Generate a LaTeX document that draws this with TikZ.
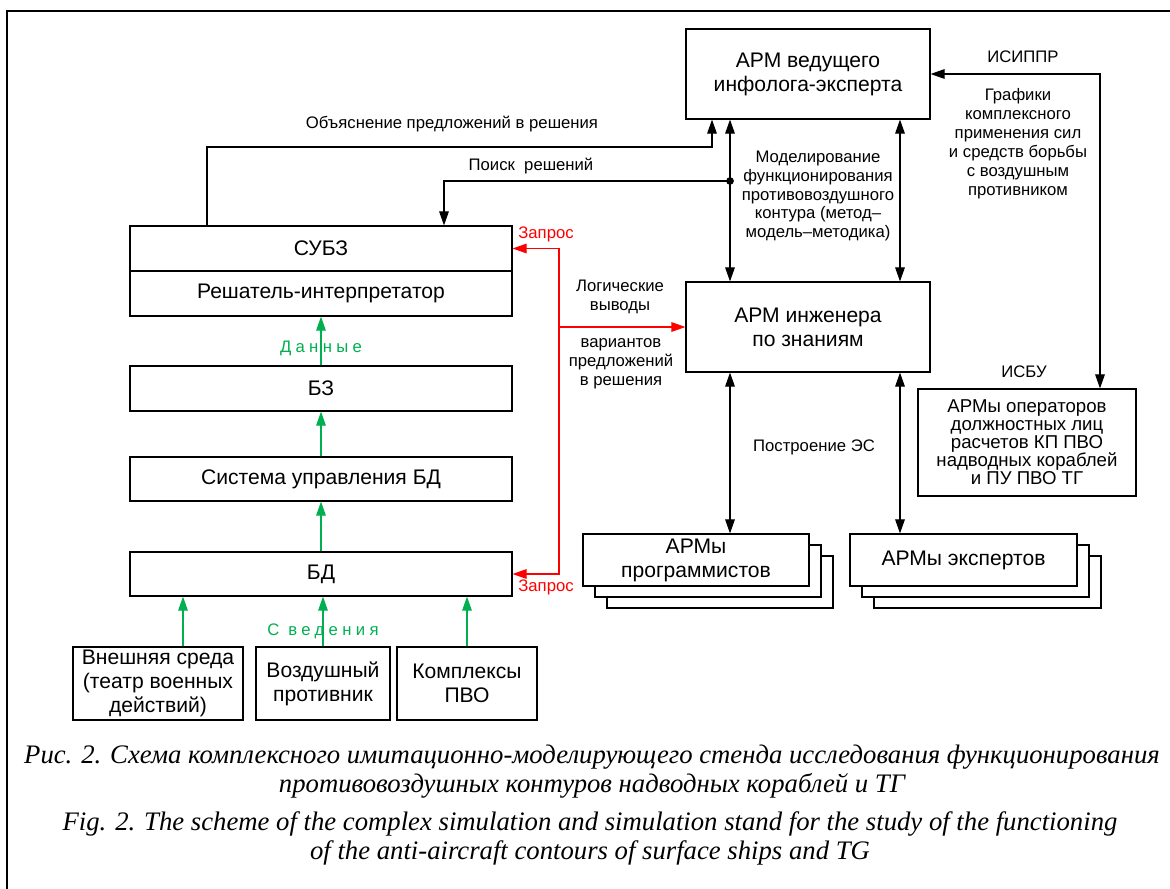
\documentclass[tikz,border=0pt]{standalone}
\usepackage{fontspec}
\setmainfont{Liberation Sans}
\newfontfamily\capfont{Liberation Serif}
\usetikzlibrary{arrows.meta,shadows}
\definecolor{zelen}{RGB}{0,176,80}
\tikzset{
  blk/.style={draw,line width=.7pt,inner sep=1pt,align=center,font=\fontsize{12}{13.7}\selectfont},
  lbl/.style={align=center,font=\fontsize{9.5}{10.8}\selectfont},
  arr/.style={line width=.6pt,-{Triangle[length=8pt,width=5.5pt]}},
  darr/.style={line width=.6pt,{Triangle[length=8pt,width=5.5pt]}-{Triangle[length=8pt,width=5.5pt]}},
  garr/.style={arr,zelen},
  rarr/.style={arr,red},
  stack/.style={fill=white,copy shadow={shadow xshift=.48cm,shadow yshift=-.44cm,draw=black,fill=white,line width=.7pt},
    copy shadow={shadow xshift=.24cm,shadow yshift=-.22cm,draw=black,fill=white,line width=.7pt}},
  razr/.style={font=\fontsize{9.5}{10.8}\selectfont\addfontfeature{LetterSpace=26}},
  capnode/.style={align=center,font=\capfont\itshape\fontsize{15.2}{16.5}\selectfont}
}
\begin{document}
\begin{tikzpicture}[x=.02cm,y=-.02cm]
\useasboundingbox (0,0) rectangle (1170,889);
\draw[line width=.6pt] (7,889) -- (7,11) -- (1170,11);

% left column
\node[blk,minimum width=7.64cm,minimum height=.9cm] (subz) at (321,248.5) {СУБЗ};
\node[blk,minimum width=7.64cm,minimum height=.9cm] (resh) at (321,293.5) {Решатель-интерпретатор};
\node[blk,minimum width=7.64cm,minimum height=.9cm] (bz) at (321,388.5) {БЗ};
\node[blk,minimum width=7.64cm,minimum height=.88cm] (sud) at (321,479) {Система управления БД};
\node[blk,minimum width=7.64cm,minimum height=.88cm] (bd) at (321,574) {БД};
\node[blk,minimum width=3.4cm,minimum height=1.46cm] (ext) at (158,683.5) {Внешняя среда\\(театр военных\\действий)};
\node[blk,minimum width=2.68cm,minimum height=1.46cm] (air) at (323,683.5) {Воздушный\\противник};
\node[blk,minimum width=2.8cm,minimum height=1.46cm] (pvo) at (467,683.5) {Комплексы\\ПВО};

% right part
\node[blk,minimum width=4.88cm,minimum height=1.8cm] (led) at (808,74) {АРМ ведущего\\инфолога-эксперта};
\node[blk,minimum width=4.88cm,minimum height=1.8cm] (eng) at (808,327) {АРМ инженера\\по знаниям};
\node[blk,stack,minimum width=4.52cm,minimum height=1.04cm] (prog) at (696,560) {АРМы\\программистов};
\node[blk,stack,minimum width=4.54cm,minimum height=1.04cm] (exp) at (963.5,560) {АРМы экспертов};
\node[blk,minimum width=4.36cm,minimum height=2.14cm,font=\fontsize{10.6}{10.2}\selectfont] (isbu) at (1027,442.5)
  {АРМы операторов\\должностных лиц\\расчетов КП ПВО\\надводных кораблей\\и ПУ ПВО ТГ};

\coordinate (xObj) at (207,147);
\coordinate (xObjR) at (712,147);
\coordinate (xPoisk) at (444,181);
\coordinate (tochka) at (730,181);
\coordinate (xR) at (900,0);
\coordinate (xIs) at (1100,0);
\coordinate (xRed) at (559,0);
\coordinate (xVn) at (183,0);

\draw[arr] (subz.north -| xObj) -- (xObj) -- (xObjR) -- (led.south -| xObjR);
\draw[arr] (tochka) -- (xPoisk) -- (subz.north -| xPoisk);
\fill (tochka) circle[radius=2.2pt];
\draw[darr] (led.south -| tochka) -- (eng.north -| tochka);
\draw[darr] (led.south -| xR) -- (eng.north -| xR);
\draw[darr] (eng.south -| tochka) -- (prog.north -| tochka);
\draw[darr] (eng.south -| xR) -- (exp.north -| xR);
\draw[darr] (led.east) -| (isbu.north -| xIs);

\draw[rarr] (xRed |- eng.west) -- (eng.west);
\draw[rarr] (xRed |- eng.west) |- (subz.east);
\draw[rarr] (xRed |- eng.west) |- (bd.east);

\draw[garr] (bz.north) -- (resh.south) node[razr,pos=.34] {Данные};
\draw[garr] (sud.north) -- (bz.south);
\draw[garr] (bd.north) -- (sud.south);
\draw[garr] (ext.north -| xVn) -- (bd.south -| xVn);
\draw[garr] (air.north) -- (bd.south -| air.north) node[razr,pos=.31] {С ведения};
\draw[garr] (pvo.north) -- (bd.south -| pvo.north);

% labels
\node[lbl] (tObj) at (452,124) {Объяснение предложений в решения};
\node[lbl] (tPoisk) at (531,166) {Поиск\ \ решений};
\node[lbl] (tMod) at (818,196) {Моделирование\\функционирования\\противовоздушного\\контура (метод--\\модель--методика)};
\node[lbl] (tIsippr) at (1023,57) {ИСИППР};
\node[lbl] (tGraf) at (1018,143.5) {Графики\\комплексного\\применения сил\\и средств борьбы\\с воздушным\\противником};
\node[lbl,red] (tZap1) at (546,234) {Запрос};
\node[lbl,red] (tZap2) at (546,587) {Запрос};
\node[lbl] (tLog) at (620,297) {Логические\\выводы};
\node[lbl] (tVar) at (621,363.5) {вариантов\\предложений\\в решения};
\node[lbl] (tIsbu) at (1024,372) {ИСБУ};
\node[lbl] (tPostr) at (814,447) {Построение ЭС};

% caption
\node[capnode] (capRu) at (592,771.5) {Рис. 2. Схема комплексного имитационно-моделирующего стенда исследования функционирования\\противовоздушных контуров надводных кораблей и ТГ};
\node[capnode] (capEn) at (590,838.5) {Fig. 2. The scheme of the complex simulation and simulation stand for the study of the functioning\\of the anti-aircraft contours of surface ships and TG};
\end{tikzpicture}
\end{document}
